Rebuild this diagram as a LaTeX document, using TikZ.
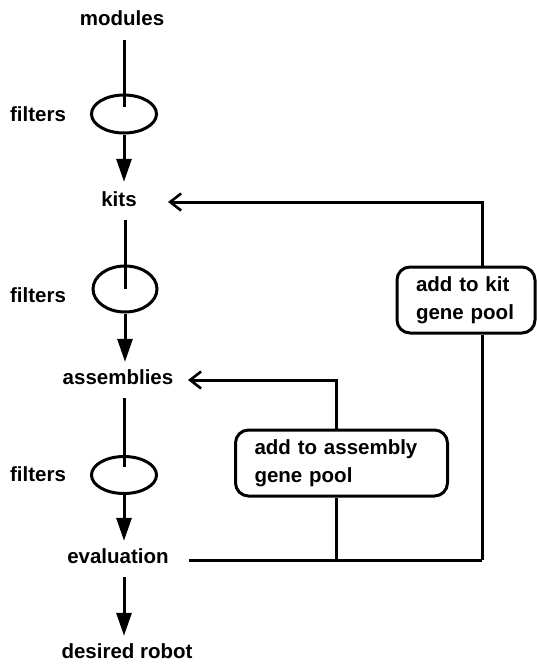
\documentclass[tikz,border=0pt]{standalone}
\usepackage{fontspec}
\setmainfont{Liberation Sans}
\usetikzlibrary{arrows.meta,shapes.geometric}
\begin{document}
\begin{tikzpicture}[x=1pt,y=-1pt,
  every node/.style={font=\fontsize{20.5}{28}\selectfont\bfseries},
  lbl/.style={inner sep=0pt, text height=14pt, text depth=4pt},
  filt/.style={draw, ellipse, line width=3pt, inner sep=0pt},
  gbox/.style={draw, rounded corners=13pt, line width=3pt, align=left, inner xsep=19pt, inner ysep=7pt},
  ln/.style={line width=3pt},
  down/.style={ln, -{Triangle[length=23pt,width=15pt]}},
  back/.style={ln, -{Straight Barb[length=11pt,width=17pt,line width=2.6pt]}}]
\useasboundingbox (0,0) rectangle (537,665);
% main column
\node[lbl] (modules) at (122,20) {modules};
\node[filt, minimum width=65pt, minimum height=38pt] (f1) at (124,114) {};
\node[lbl] (kits) at (119,201) {kits};
\node[filt, minimum width=64pt, minimum height=46pt] (f2) at (125,289) {};
\node[lbl] (assemblies) at (118,379) {assemblies};
\node[filt, minimum width=65pt, minimum height=37pt] (f3) at (124,475) {};
\node[lbl] (evaluation) at (118,558) {evaluation};
\node[lbl] (robot) at (127,653) {desired robot};
% filter labels
\node[lbl] (l1) at (38,116) {filters};
\node[lbl] (l2) at (38,297) {filters};
\node[lbl] (l3) at (38,476) {filters};
% gene pool boxes
\node[gbox, text width=100pt, minimum height=66pt] (kbox) at (466,300) {add to kit\\gene pool};
\node[gbox, text width=174pt, minimum height=66pt] (abox) at (341.5,463) {add to assembly\\gene pool};
% column connectors
\draw[ln] ([yshift=-11pt]modules.south -| f1) -- ([yshift=7pt]f1.center);
\draw[down] (f1.south) -- ([yshift=10pt]kits.north -| f1);
\draw[ln] ([yshift=-10pt]kits.south -| f2) -- (f2.center);
\draw[down] (f2.south) -- ([yshift=8pt]assemblies.north -| f2);
\draw[ln] ([yshift=-10pt]assemblies.south -| f3) -- ([yshift=8pt]f3.center);
\draw[down] (f3.south) -- ([yshift=8pt]evaluation.north -| f3);
\draw[down] ([yshift=-10pt]evaluation.south -| f3) -- ([yshift=8pt]robot.north -| f3);
% feedback
\coordinate (rk) at (482,560);
\coordinate (ra) at (336,560);
\coordinate (kt) at (168,202);
\coordinate (at) at (188,380);
\draw[ln] ([xshift=20pt]evaluation.east |- rk) -- (rk);
\draw[ln] (rk) -- (kbox.south -| rk);
\draw[back] (kbox.north -| rk) |- (kt);
\draw[ln] (ra) -- (abox.south -| ra);
\draw[back] (abox.north -| ra) |- (at);
\end{tikzpicture}
\end{document}
